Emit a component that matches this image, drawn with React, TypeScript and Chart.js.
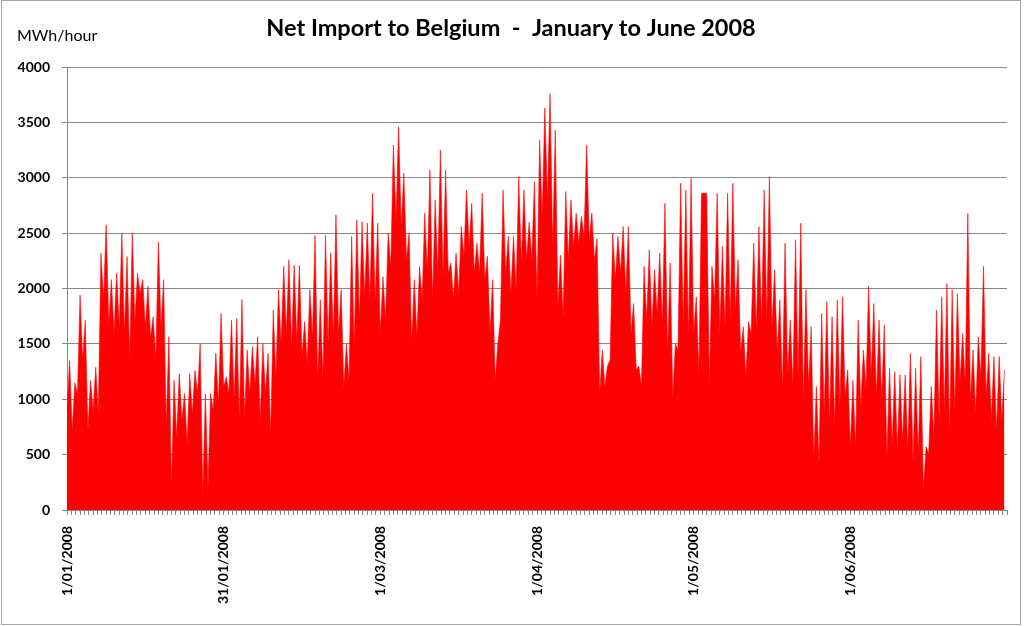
import React, { useEffect, useRef } from 'react';
import { Chart, registerables } from 'chart.js';

Chart.register(...registerables);

const TITLE = 'Net Import to Belgium  -  January to June 2008';
const Y_UNIT = 'MWh/hour';
const X_LABELS = ['1/01/2008', '31/01/2008', '1/03/2008', '1/04/2008', '1/05/2008', '1/06/2008'];
const LABEL_DAYS = [0, 30, 60, 90, 120, 150];
const TOTAL_DAYS = 180;

// daily minimum (night trough) of the hourly net import, MWh/hour
const DAILY_LOW = [
  900, 720, 1050, 1355, 720, 900, 870, 1900, 1685, 1600,
  1650, 1600, 1355, 1700, 1955, 1650, 1560, 1355, 1650, 750,
  210, 660, 810, 600, 870, 1050, 150, 210, 900, 960,
  1110, 1050, 1000, 810, 840, 1050, 1140, 810, 1050, 690,
  1200, 1505, 1595, 1475, 1535, 1385, 1325, 1565, 1170, 1170,
  1500, 1555, 1590, 1100, 1170, 1475, 1715, 1925, 1895, 1895,
  1600, 1715, 2200, 2620, 2560, 2260, 1505, 1565, 1895, 2140,
  1895, 2140, 2110, 2140, 1900, 1955, 2290, 2380, 2140, 2140,
  2080, 1600, 1170, 1710, 2140, 1955, 1985, 2230, 2260, 2260,
  1900, 2650, 2800, 2380, 1835, 1745, 2260, 2380, 2410, 2470,
  2440, 2260, 1050, 1115, 1355, 2080, 2140, 1955, 1600, 1265,
  1115, 1715, 1655, 1775, 1685, 1415, 1020, 1445, 1685, 1565,
  1595, 1235, 2860, 1115, 1895, 1600, 1655, 1715, 1800, 1415,
  1200, 1595, 1625, 1685, 1715, 1655, 1415, 1085, 1235, 1115,
  1205, 995, 1115, 450, 420, 870, 780, 750, 930, 1020,
  570, 570, 930, 1110, 1205, 1025, 990, 450, 600, 540,
  630, 540, 450, 510, 180, 510, 660, 810, 900, 660,
  900, 1145, 1145, 990, 870, 1205, 1020, 810, 720, 810,
];

// daily maximum (peak) of the hourly net import, MWh/hour
const DAILY_HIGH = [
  1350, 1150, 1940, 1715, 1170, 1290, 2320, 2575, 2080, 2140,
  2500, 2290, 2500, 2140, 2080, 2020, 1745, 2420, 2080, 1565,
  1170, 1230, 1050, 1230, 1260, 1500, 1050, 1050, 1415, 1775,
  1200, 1715, 1730, 1900, 1445, 1475, 1565, 1500, 1415, 1805,
  1990, 2200, 2260, 2210, 2210, 1700, 1990, 2480, 1900, 2480,
  2320, 2665, 1990, 1500, 2470, 2620, 2600, 2590, 2860, 2590,
  2105, 2500, 3295, 3460, 3040, 2500, 2080, 2200, 2680, 3070,
  2800, 3250, 3070, 2230, 2320, 2560, 2890, 2770, 2410, 2860,
  2290, 2080, 1500, 2890, 2470, 2470, 3010, 2890, 2600, 2965,
  3340, 3630, 3760, 3430, 2300, 2875, 2800, 2680, 2650, 3295,
  2680, 2450, 1445, 1300, 2500, 2470, 2560, 2560, 1865, 1300,
  2200, 2350, 2170, 2320, 2770, 2230, 1500, 2950, 2890, 2995,
  1925, 2860, 2860, 2200, 2860, 2380, 2860, 2950, 2260, 1655,
  1700, 2410, 2560, 2890, 3010, 2170, 1900, 2410, 1715, 2440,
  2590, 1990, 1655, 1115, 1775, 1880, 1745, 1895, 1925, 1265,
  1170, 1715, 1445, 2020, 1865, 1715, 1670, 1280, 1250, 1220,
  1220, 1415, 1280, 1385, 570, 1115, 1805, 1925, 2045, 1990,
  1955, 1595, 2680, 1445, 1565, 2200, 1415, 1385, 1385, 1265,
];

const Y_MIN = 0;
const Y_MAX = 4000;
const Y_STEP = 500;

const GRID = '#868686';
const FILL = '#ff0000';
const FONT = 'Lato, "Open Sans", sans-serif';

export default function App() {
  const canvasRef = useRef<HTMLCanvasElement | null>(null);

  useEffect(() => {
    const canvas = canvasRef.current;
    if (!canvas) return;

    const points: { x: number; y: number }[] = [];
    for (let i = 0; i < DAILY_LOW.length; i++) {
      points.push({ x: i, y: DAILY_LOW[i] });
      points.push({ x: i + 0.5, y: DAILY_HIGH[i] });
    }

    const decor = {
      id: 'decor',
      afterDraw(chart: any) {
        const ctx = chart.ctx;
        ctx.save();
        ctx.fillStyle = '#000';
        ctx.textBaseline = 'middle';
        ctx.textAlign = 'center';
        ctx.font = `bold 23.5px ${FONT}`;
        ctx.fillText(TITLE, 511, 28);
        ctx.textAlign = 'left';
        ctx.font = `16px ${FONT}`;
        ctx.fillText(Y_UNIT, 17, 36);
        ctx.strokeStyle = '#a6a6a6';
        ctx.lineWidth = 1;
        ctx.strokeRect(1.5, 0.5, 1019, 624);
        ctx.restore();
      },
    };

    const chart = new Chart(canvas, {
      type: 'line',
      data: {
        datasets: [
          {
            data: points,
            borderColor: FILL,
            borderWidth: 0.6,
            backgroundColor: FILL,
            fill: 'origin',
            pointRadius: 0,
            tension: 0,
          },
        ],
      },
      options: {
        animation: false,
        responsive: false,
        devicePixelRatio: 1,
        layout: { padding: { left: 0, right: 17, top: 67, bottom: 0 } },
        plugins: {
          legend: { display: false },
          title: { display: false },
          tooltip: { enabled: false },
        },
        scales: {
          x: {
            type: 'linear',
            min: 0,
            max: TOTAL_DAYS,
            afterBuildTicks: (scale: any) => {
              const ticks = [];
              for (let h = 0; h <= TOTAL_DAYS * 24; h += 20) ticks.push({ value: h / 24 });
              scale.ticks = ticks;
            },
            afterFit: (scale: any) => {
              scale.height = 116;
              scale.paddingRight = 0;
              scale.paddingLeft = 0;
            },
            ticks: {
              autoSkip: false,
              maxRotation: 90,
              minRotation: 90,
              padding: 11,
              color: '#000',
              font: { family: FONT, size: 14, weight: 'bold' },
              callback: (value: any) => {
                const k = LABEL_DAYS.findIndex((d) => Math.abs(d - Number(value)) < 1e-6);
                return k >= 0 ? X_LABELS[k] : '';
              },
            },
            grid: { display: true, drawOnChartArea: false, drawTicks: true, tickLength: 5, color: GRID },
            border: { display: true, color: GRID },
          },
          y: {
            min: Y_MIN,
            max: Y_MAX,
            afterFit: (scale: any) => {
              scale.width = 67;
            },
            ticks: {
              stepSize: Y_STEP,
              padding: 12,
              color: '#000',
              font: { family: FONT, size: 14, weight: 'bold' },
              callback: (value: any) => String(value),
            },
            grid: { color: GRID, tickLength: 5 },
            border: { display: true, color: GRID },
          },
        },
      },
      plugins: [decor],
    });

    return () => chart.destroy();
  }, []);

  return (
    <div style={{ position: 'absolute', left: 0, top: 0, width: 1024, height: 626, background: '#fff' }}>
      <canvas ref={canvasRef} width={1024} height={626} style={{ display: 'block' }} />
    </div>
  );
}
